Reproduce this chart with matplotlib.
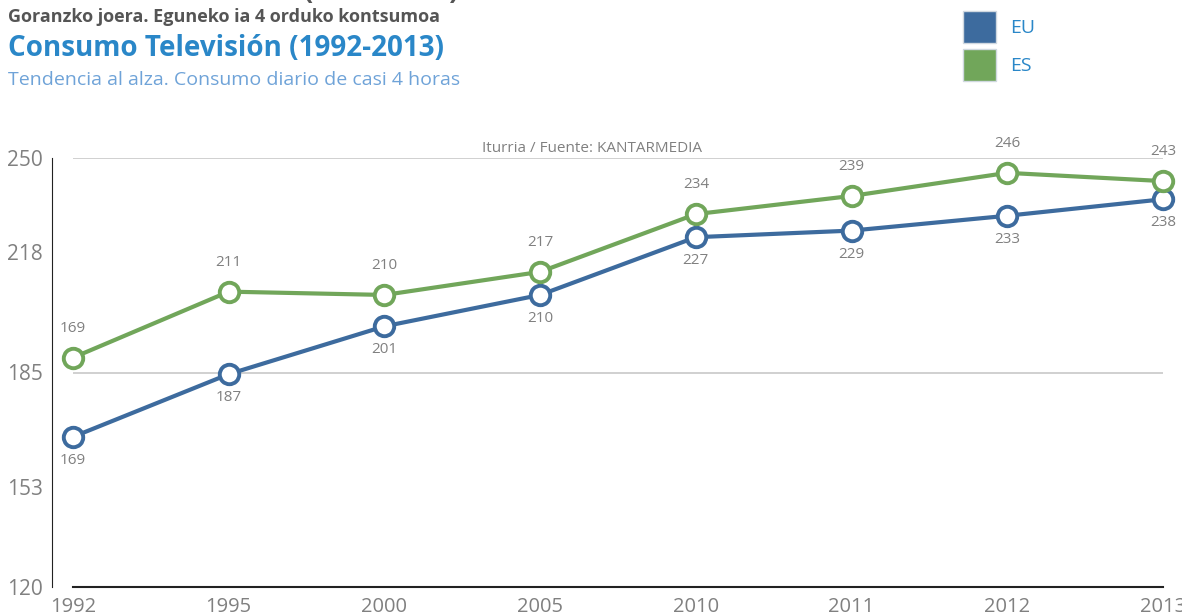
import numpy as np
from matplotlib import pyplot as plt

#### Consumo Television (1992-2013) ####

years = ['1992', '1995', '2000', '2005', '2010', '2011', '2012', '2013']
# positions
eu_values = [165.5, 184.5, 199, 208.5, 226, 228, 232.5, 237.5]
es_values = [189.5, 209.5, 208.5, 215.5, 233, 238.5, 245.5, 243]
# labels as printed on the chart
eu_labels = ['169', '187', '201', '210', '227', '229', '233', '238']
es_labels = ['169', '211', '210', '217', '234', '239', '246', '243']
ytick_values = [120, 150.3, 185, 221.5, 250]
ytick_labels = ['120', '153', '185', '218', '250']

eu_color = '#3d6b9e'
es_color = '#71a65a'
plt.rcParams['font.family'] = ['Open Sans', 'DejaVu Sans']

W, H = 1182, 612
fig = plt.figure(figsize=(W / 100, H / 100), dpi=100)
ax = fig.add_axes([73 / W, (H - 587) / H, (1163 - 73) / W, (587 - 158) / H])

x = np.arange(len(years))
for v in [250, 185]:
    ax.axhline(v, color='#c8c8c8', lw=1.2, zorder=1)

ax.plot(x, eu_values, '-o', color=eu_color, lw=3, ms=14, mew=2.8,
        mfc='white', mec=eu_color, clip_on=False, zorder=3)
ax.plot(x, es_values, '-o', color=es_color, lw=3, ms=14, mew=2.8,
        mfc='white', mec=es_color, clip_on=False, zorder=3)

for i in range(len(years)):
    ax.annotate(eu_labels[i], (x[i], eu_values[i]), xytext=(0, -17), textcoords='offset points',
                ha='center', va='center', fontsize=11, color='#808080')
    ax.annotate(es_labels[i], (x[i], es_values[i]), xytext=(0, 21), textcoords='offset points',
                ha='center', va='center', fontsize=11, color='#808080')

ax.set_xlim(0, len(years) - 1)
ax.set_ylim(120, 250)
ax.set_xticks(x)
ax.set_xticklabels(years)
ax.set_yticks(ytick_values)
ax.set_yticklabels(ytick_labels)
ax.tick_params(axis='x', length=0, labelsize=14.5, labelcolor='#808080', pad=7)
ax.tick_params(axis='y', length=0, labelsize=15, labelcolor='#808080', pad=7)
ax.spines['top'].set_visible(False)
ax.spines['right'].set_visible(False)
ax.spines['left'].set_position(('outward', 15))
ax.spines['left'].set_color('#222222')
ax.spines['bottom'].set_color('#222222')
ax.spines['bottom'].set_linewidth(1.5)

ax.text(0.476, 1.004, 'Iturria / Fuente: KANTARMEDIA', transform=ax.transAxes,
        ha='center', va='bottom', fontsize=11, color='#808080')

# header
fig.text(8 / W, 1 + 1 / H, 'Telebista kontsumoa (1992-2013)',
         ha='left', va='baseline', fontsize=20, fontweight='bold', color='#555555')
fig.text(8 / W, 1 - 17 / H, 'Goranzko joera. Eguneko ia 4 orduko kontsumoa',
         ha='left', va='center', fontsize=13, fontweight='bold', color='#555555')
fig.text(8 / W, 1 - 48 / H, 'Consumo Televisión (1992-2013)',
         ha='left', va='center', fontsize=20, fontweight='bold', color='#2a87c8')
fig.text(8 / W, 1 - 80 / H, 'Tendencia al alza. Consumo diario de casi 4 horas',
         ha='left', va='center', fontsize=14, color='#6fa3d8')

# legend
for j, (name, col) in enumerate([('EU', eu_color), ('ES', es_color)]):
    y0 = 11 + j * 38
    fig.patches.append(plt.Rectangle((963 / W, 1 - (y0 + 32) / H), 33 / W, 32 / H,
                                     transform=fig.transFigure, facecolor=col,
                                     edgecolor='#d0d8e0', lw=1))
    fig.text(1010 / W, 1 - (y0 + 17) / H, name, ha='left', va='center',
             fontsize=14, color='#2a87c8')

plt.savefig('out.png', dpi=100)
